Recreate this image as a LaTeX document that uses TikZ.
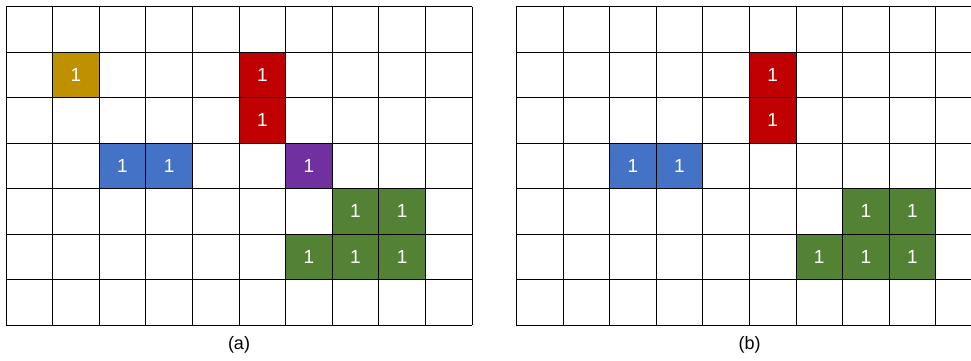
\documentclass[tikz,border=0pt]{standalone}
\usepackage{fontspec}
\setmainfont{Liberation Sans}
\usetikzlibrary{positioning}
\definecolor{CellGold}{RGB}{191,144,0}
\definecolor{CellRed}{RGB}{192,0,0}
\definecolor{CellBlue}{RGB}{68,114,196}
\definecolor{CellPurple}{RGB}{112,48,160}
\definecolor{CellGreen}{RGB}{84,130,53}

\begin{document}
\begin{tikzpicture}[
        x=1pt, y=-1pt,
        cell/.style={rectangle, draw=black, line width=0.8pt, minimum width=46.6pt, minimum height=45.5pt, inner sep=0pt, text=white, font=\fontsize{19}{22}\selectfont},
        gridline/.style={black, line width=0.8pt},
        caption/.style={font=\fontsize{18}{21}\selectfont}
    ]
        \useasboundingbox (0,0) rectangle (971,360);
        \clip (0,0) rectangle (971,360);

        % Grids
        \foreach \gx in {6, 516.3} {
            \foreach \i in {0,...,10} \draw[gridline] ({\gx+\i*46.6}, 6.5) -- ({\gx+\i*46.6}, 325);
            \foreach \j in {0,...,7} \draw[gridline] (\gx, {6.5+\j*45.5}) -- ({\gx+466}, {6.5+\j*45.5});
        }

        % Cells (a)
        \foreach \c/\r/\col/\nm in {1/1/CellGold/gold, 5/1/CellRed/redtop, 5/2/CellRed/redbot, 2/3/CellBlue/blueleft, 3/3/CellBlue/blueright, 6/3/CellPurple/purple, 7/4/CellGreen/greenA, 8/4/CellGreen/greenB, 6/5/CellGreen/greenC, 7/5/CellGreen/greenD, 8/5/CellGreen/greenE}
            \node[cell, fill=\col] (a-\nm) at ({6+\c*46.6+23.3}, {6.5+\r*45.5+22.75}) {1};

        % Cells (b)
        \foreach \c/\r/\col/\nm in {5/1/CellRed/redtop, 5/2/CellRed/redbot, 2/3/CellBlue/blueleft, 3/3/CellBlue/blueright, 7/4/CellGreen/greenA, 8/4/CellGreen/greenB, 6/5/CellGreen/greenC, 7/5/CellGreen/greenD, 8/5/CellGreen/greenE}
            \node[cell, fill=\col] (b-\nm) at ({516.3+\c*46.6+23.3}, {6.5+\r*45.5+22.75}) {1};

        % Captions
        \node[caption] (capA) at (239, 345) {(a)};
        \node[caption] (capB) at (749.5, 345) {(b)};

    \end{tikzpicture}
\end{document}
